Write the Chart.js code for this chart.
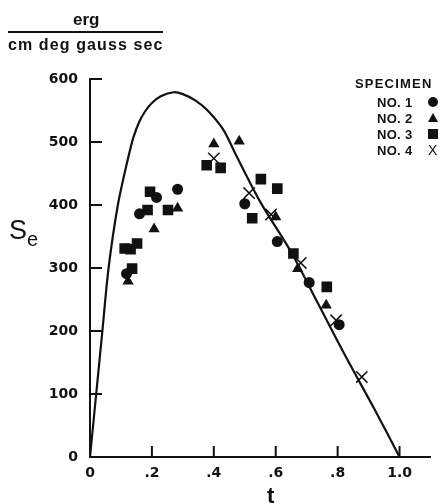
<!DOCTYPE html>
<html>
<head>
<meta charset="utf-8">
<script src="https://cdn.jsdelivr.net/npm/chart.js@4.4.0/dist/chart.umd.min.js"></script>
<style>
  html, body { margin: 0; padding: 0; background: #fff; }
  #wrap { position: relative; width: 440px; height: 504px; overflow: hidden;
          font-family: "Liberation Sans", Arial, sans-serif; color: #111; }
  canvas { position: absolute; left: 0; top: 0; }
  .lbl { position: absolute; white-space: nowrap; line-height: 1; }
  #erg { left: 73px; top: 11px; font-size: 17px; font-weight: bold; }
  #bar { position: absolute; left: 8px; top: 31px; width: 155px; height: 2px; background: #111; }
  #units { left: 8px; top: 37px; font-size: 16px; font-weight: bold; letter-spacing: 1.1px; }
  #ylab { left: 9px; top: 217px; font-size: 27px; }
  #ylab sub { font-size: 20px; vertical-align: -7px; }
  #xlab { left: 267px; top: 485px; font-size: 22px; font-weight: bold; }
  #legend { position: absolute; left: 352px; top: 76px; font-size: 13px; font-weight: bold; white-space: nowrap; }
  #legend .row { position: relative; height: 16px; }
  #legend .name { position: absolute; left: 25px; top: 0; letter-spacing: 0.3px; }
  #legend .sym { position: absolute; left: 76px; top: 2px; }
  .dot { width: 10px; height: 10px; border-radius: 50%; background: #111; }
  .tri { width: 0; height: 0; border-left: 5px solid transparent; border-right: 5px solid transparent; border-bottom: 9px solid #111; }
  .sq { width: 10px; height: 10px; background: #111; }
  .ex { font-size: 14px; font-weight: normal; top: -1px !important; }
</style>
</head>
<body>
<div id="wrap">
  <canvas id="c" width="440" height="504"></canvas>
  <div class="lbl" id="erg">erg</div>
  <div id="bar"></div>
  <div class="lbl" id="units">cm deg gauss sec</div>
  <div class="lbl" id="ylab">S<sub>e</sub></div>
  <div class="lbl" id="xlab">t</div>
  <div id="legend">
    <div class="row" style="height:19px"><span style="position:absolute;left:3px;letter-spacing:1.2px;">SPECIMEN</span></div>
    <div class="row"><span class="name">NO. 1</span><div class="sym dot"></div></div>
    <div class="row"><span class="name">NO. 2</span><div class="sym tri"></div></div>
    <div class="row"><span class="name">NO. 3</span><div class="sym sq"></div></div>
    <div class="row"><span class="name">NO. 4</span><div class="sym ex">X</div></div>
  </div>
</div>
<script>
// theoretical curve
const curveT = [0, 0.02, 0.04, 0.06, 0.09, 0.12, 0.14, 0.16, 0.18, 0.20, 0.23, 0.27, 0.30, 0.34, 0.38, 0.43, 0.47, 0.55, 0.65, 0.73, 0.82, 0.92, 1.0]
const curveS = [0, 100, 200, 300, 400, 468, 507, 533, 550, 562, 573, 579, 576, 566, 550, 520, 481, 405, 325, 250, 165, 75, 0]

// measured points, one pair of arrays per specimen
const spec1T = [0.118, 0.160, 0.215, 0.283, 0.500, 0.605, 0.708, 0.805]
const spec1S = [291, 386, 412, 425, 402, 342, 277, 210]
const spec2T = [0.123, 0.207, 0.283, 0.400, 0.482, 0.600, 0.671, 0.763]
const spec2S = [279, 362, 395, 497, 501, 381, 299, 241]
const spec3T = [0.112, 0.131, 0.136, 0.152, 0.186, 0.194, 0.252, 0.377, 0.422, 0.524, 0.552, 0.605, 0.657, 0.765]
const spec3S = [331, 330, 299, 339, 392, 421, 392, 463, 459, 379, 441, 426, 323, 270]
const spec4T = [0.400, 0.514, 0.585, 0.681, 0.795, 0.878]
const spec4S = [474, 419, 385, 308, 217, 127]

const xTicks = [0, 0.2, 0.4, 0.6, 0.8, 1.0]
const xTickLabels = ["0", ".2", ".4", ".6", ".8", "1.0"]
const yTicks = [0, 100, 200, 300, 400, 500, 600]
const yTickLabels = ["0", "100", "200", "300", "400", "500", "600"]

const ink = "#111"
const tickFont = { family: "DejaVu Sans", size: 14, weight: "bold" }

function pts(xs, ys) {
  return xs.map((x, i) => ({ x: x, y: ys[i] }))
}

// tick marks point into the plot, like the original
const innerTicks = {
  id: "innerTicks",
  afterDatasetsDraw(chart) {
    const ctx = chart.ctx
    const xs = chart.scales.x, ys = chart.scales.y
    const left = chart.chartArea.left, bottom = chart.chartArea.bottom
    ctx.save()
    ctx.strokeStyle = ink
    ctx.lineWidth = 2
    ctx.beginPath()
    xTicks.forEach(v => {
      if (v === 0) return
      const px = xs.getPixelForValue(v)
      ctx.moveTo(px, bottom)
      ctx.lineTo(px, bottom - 11)
    })
    yTicks.forEach(v => {
      if (v === 0) return
      const py = ys.getPixelForValue(v)
      ctx.moveTo(left, py)
      ctx.lineTo(left + 12, py)
    })
    ctx.stroke()
    ctx.restore()
  }
}

new Chart(document.getElementById("c"), {
  type: "scatter",
  data: {
    datasets: [
      {
        type: "line",
        label: "theory",
        data: pts(curveT, curveS),
        borderColor: ink,
        borderWidth: 2.2,
        pointRadius: 0,
        tension: 0.3,
        fill: false
      },
      { label: "NO. 1", data: pts(spec1T, spec1S), pointStyle: "circle", pointRadius: 5.5,
        backgroundColor: ink, borderColor: ink, borderWidth: 0 },
      { label: "NO. 2", data: pts(spec2T, spec2S), pointStyle: "triangle", pointRadius: 6.5,
        backgroundColor: ink, borderColor: ink, borderWidth: 0 },
      { label: "NO. 3", data: pts(spec3T, spec3S), pointStyle: "rect", pointRadius: 7.5,
        backgroundColor: ink, borderColor: ink, borderWidth: 0 },
      { label: "NO. 4", data: pts(spec4T, spec4S), pointStyle: "crossRot", pointRadius: 8,
        backgroundColor: ink, borderColor: ink, borderWidth: 1.5 }
    ]
  },
  options: {
    responsive: false,
    animation: false,
    devicePixelRatio: 1,
    layout: { padding: { top: 79, right: 0, left: 0, bottom: 0 } },
    plugins: { legend: { display: false }, tooltip: { enabled: false } },
    scales: {
      x: {
        type: "linear",
        min: 0,
        max: 1.1,
        afterFit: s => { s.height = 47 },
        afterBuildTicks: s => { s.ticks = xTicks.map(v => ({ value: v })) },
        grid: { display: false },
        border: { display: true, color: ink, width: 2 },
        ticks: {
          color: ink,
          padding: 0,
          maxRotation: 0,
          font: tickFont,
          callback: (v, i) => xTickLabels[i]
        }
      },
      y: {
        type: "linear",
        min: 0,
        max: 600,
        afterFit: s => { s.width = 90 },
        afterBuildTicks: s => { s.ticks = yTicks.map(v => ({ value: v })) },
        grid: { display: false },
        border: { display: true, color: ink, width: 2 },
        ticks: {
          color: ink,
          padding: 4,
          font: tickFont,
          callback: (v, i) => yTickLabels[i]
        }
      }
    }
  },
  plugins: [innerTicks]
})
</script>
</body>
</html>
